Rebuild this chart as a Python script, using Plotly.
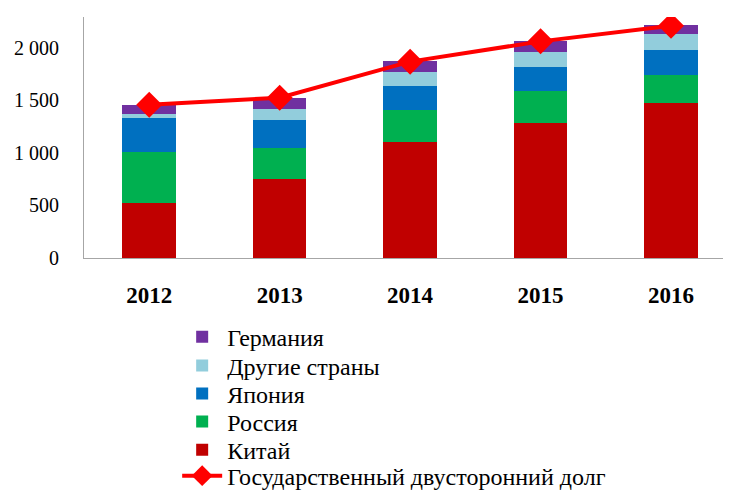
import plotly.graph_objects as go

years = ["2012", "2013", "2014", "2015", "2016"]
china = [524, 752, 1105, 1286, 1476]
russia = [486, 296, 305, 304, 267]
japan = [323, 266, 228, 229, 238]
other = [38, 105, 133, 143, 152]
germany = [86, 105, 105, 105, 86]
total_debt = [1460, 1527, 1870, 2063, 2212]

y_ticks = [0, 500, 1000, 1500, 2000]
y_tick_labels = ["0", "500", "1 000", "1 500", "2 000"]

FONT = "Liberation Serif"

# legend rows (paper y), top to bottom
legend_rows = {"legend": -0.328, "legend2": -0.448, "legend3": -0.564,
               "legend4": -0.680, "legend5": -0.797, "legend6": -0.905}

fig = go.Figure()
fig.add_trace(go.Scatter(
    x=years, y=total_debt, name="Государственный двусторонний долг",
    mode="lines+markers",
    line=dict(color="#FF0000", width=4),
    marker=dict(symbol="diamond", size=20, color="#FF0000"),
    legend="legend6",
))
for name, vals, col, lg in [
    ("Китай", china, "#C00000", "legend5"),
    ("Россия", russia, "#00B050", "legend4"),
    ("Япония", japan, "#0070C0", "legend3"),
    ("Другие страны", other, "#92CDDC", "legend2"),
    ("Германия", germany, "#7030A0", "legend"),
]:
    fig.add_trace(go.Bar(x=years, y=vals, name=name, legend=lg,
                         marker=dict(color=col, line=dict(width=0))))

legend_layouts = {
    k: dict(x=0.144, y=v, xanchor="left", yanchor="middle",
            font=dict(family=FONT, size=24, color="black"),
            itemwidth=40, bgcolor="rgba(0,0,0,0)", borderwidth=0)
    for k, v in legend_rows.items()
}

fig.update_layout(
    barmode="stack",
    bargap=0.59,
    width=723, height=483,
    margin=dict(l=76, r=0, t=9, b=233, autoexpand=False),
    plot_bgcolor="white", paper_bgcolor="white",
    font=dict(family=FONT, size=20, color="black"),
    showlegend=True,
    **legend_layouts,
)
fig.update_xaxes(
    type="category", range=[-0.5, 4.46], automargin=False,
    showline=True, linecolor="#A6A6A6", linewidth=1,
    ticks="", tickfont=dict(family=FONT, size=23, color="black", weight="bold"),
    ticklabelstandoff=16,
)
fig.update_yaxes(
    range=[0, 2295], tickvals=y_ticks, ticktext=y_tick_labels, automargin=False,
    showline=True, linecolor="#A6A6A6", linewidth=1,
    showgrid=False, zeroline=False, ticks="",
    tickfont=dict(family=FONT, size=20, color="black"),
    ticklabelstandoff=20,
)

fig.write_html("out.html")
